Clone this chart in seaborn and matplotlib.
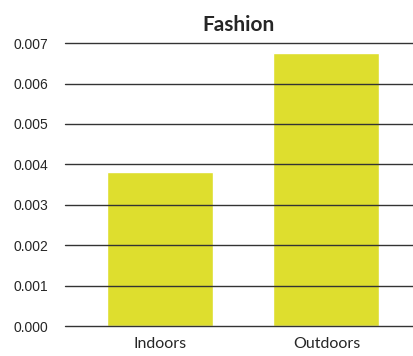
import matplotlib
matplotlib.use("Agg")
import matplotlib.pyplot as plt
import seaborn as sns
import pandas as pd

categories = ["Indoors", "Outdoors"]
values = [0.00382, 0.00676]
yticks = [0.000, 0.001, 0.002, 0.003, 0.004, 0.005, 0.006, 0.007]

sns.set_theme(style="white")
plt.rcParams['font.family'] = ['Lato', 'DejaVu Sans']

df = pd.DataFrame({"cat": categories, "val": values})
fig = plt.figure(figsize=(4.13, 3.56), dpi=100)
ax = fig.add_axes([0.157, 0.084, 0.843, 0.795])
sns.barplot(data=df, x="cat", y="val", color="#DEDE2E", saturation=1, width=0.635, ax=ax, zorder=1)
ax.set_xlim(-0.57, 1.52)
ax.set_ylim(0, 0.007)
ax.set_yticks(yticks)
ax.set_yticklabels([f"{t:.3f}" for t in yticks], fontsize=10, family=['Liberation Sans'])
ax.yaxis.grid(True, color="#333333", linewidth=1.0, zorder=3)
for gl in ax.get_ygridlines():
    gl.set_clip_on(False)
ax.set_axisbelow(False)
for s in ax.spines.values():
    s.set_visible(False)
ax.tick_params(axis='both', length=0)
ax.tick_params(axis='y', pad=12)
ax.tick_params(axis='x', pad=8, labelsize=11.5)
ax.set_xlabel("")
ax.set_ylabel("")
ax.set_title("Fashion", fontsize=15, fontweight="bold", pad=9)
fig.savefig("out.png", dpi=100)
